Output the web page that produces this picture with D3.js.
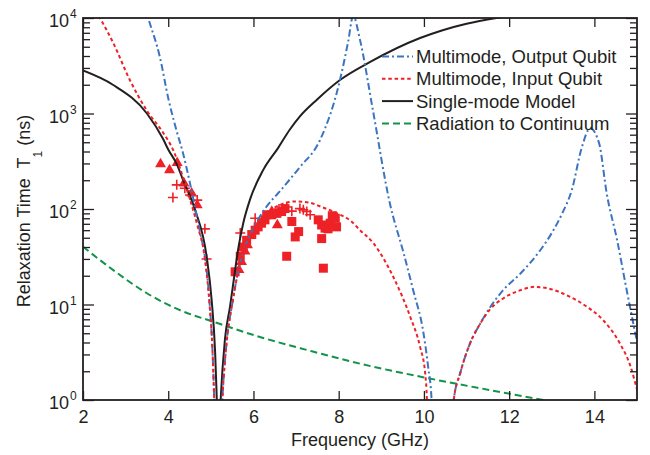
<!DOCTYPE html>
<html>
<head>
<meta charset="utf-8">
<script src="https://cdn.jsdelivr.net/npm/d3@7/dist/d3.min.js"></script>
<style>
  body { margin: 0; background: #fff; }
  text { font-family: "Liberation Sans", Arial, Helvetica, sans-serif; fill: #231f20; }
</style>
</head>
<body>
<div class="canvas"></div>
<script>
// tick values
const xTicks = [2, 4, 6, 8, 10, 12, 14];
const yTicks = [1, 10, 100, 1000, 10000];
const yExponents = ['0', '1', '2', '3', '4'];

const legendLabels = [
  'Multimode, Output Qubit',
  'Multimode, Input Qubit',
  'Single-mode Model',
  'Radiation to Continuum'
];

// curves: [frequency GHz, T1 ns]
const outputQubit = [
  [3.45, 13200], [3.53, 10000], [3.81, 3800], [4.0, 1450], [4.2, 650], [4.35, 380],
  [4.51, 186], [4.75, 56], [4.86, 32], [4.97, 10.5], [5.04, 3.2], [5.08, 1], [5.12, 0.3],
  [5.22, 0.3], [5.27, 1], [5.37, 4], [5.5, 10], [5.62, 20], [5.76, 35], [6.0, 63],
  [6.3, 105], [6.6, 150], [7.09, 275], [7.56, 525], [8.03, 2240], [8.22, 5600],
  [8.34, 10500], [8.5, 5900], [8.8, 1100], [9.2, 115], [9.52, 35], [9.75, 14],
  [9.99, 5], [10.1, 2.2], [10.18, 1], [10.22, 0.3],
  [10.6, 0.3], [10.7, 1], [10.85, 1.9], [11.08, 3.9], [11.32, 6.3], [11.55, 9.3],
  [11.85, 14], [12.26, 21], [12.73, 37], [13.0, 56], [13.24, 89], [13.47, 158],
  [13.71, 450], [13.9, 700], [14.11, 490], [14.29, 145], [14.53, 48], [14.76, 14],
  [14.96, 5], [15.05, 3.2]
];

const inputQubit = [
  [2.3, 12000], [2.4, 10000], [2.7, 5600], [3.1, 2240], [3.5, 1070], [3.88, 630],
  [4.11, 420], [4.44, 158], [4.67, 71], [4.86, 30], [4.97, 10], [5.04, 3.2], [5.08, 1],
  [5.12, 0.3],
  [5.22, 0.3], [5.27, 1], [5.37, 4], [5.5, 10], [5.62, 20], [5.76, 35], [6.0, 60],
  [6.3, 89], [6.62, 110], [6.98, 120], [7.29, 117], [7.6, 105], [7.99, 89], [8.3, 74],
  [8.5, 60], [8.81, 44], [9.28, 19.5], [9.68, 7.4], [9.91, 3.6], [10.03, 1.9],
  [10.07, 1], [10.1, 0.3],
  [10.6, 0.3], [10.7, 1], [10.85, 1.9], [11.08, 3.9], [11.32, 6.3], [11.55, 8.9],
  [11.85, 11.5], [12.26, 14.1], [12.6, 15.3], [12.9, 14.8], [13.43, 12], [13.82, 9.5],
  [14.2, 6.9], [14.6, 3.9], [14.85, 2.24], [15.0, 1.3], [15.08, 1]
];

const singleMode = [
  [2.0, 2820], [2.7, 2000], [3.5, 1000], [3.88, 540], [4.0, 420], [4.2, 295],
  [4.35, 200], [4.63, 98], [4.9, 32], [5.02, 11], [5.1, 3.2], [5.14, 1], [5.18, 0.3],
  [5.23, 1], [5.33, 4.3], [5.45, 9.5], [5.57, 23], [5.65, 40], [5.76, 71], [5.92, 126],
  [6.23, 257], [6.58, 437], [6.85, 676], [7.09, 933], [7.5, 1410], [8.03, 2240],
  [8.74, 3470], [9.91, 6170], [10.42, 7410], [11.0, 8710], [11.7, 10000], [12.5, 11200]
];

const radiation = [
  [2.0, 40.3], [2.71, 22.9], [3.49, 13.2], [4.28, 8.7], [5.06, 6.6], [6.15, 4.57],
  [7.3, 3.3], [8.5, 2.4], [10.07, 1.7], [11.55, 1.27], [12.8, 1.0]
];

// measured points
const triangles = [
  [3.82, 296], [4.03, 256], [4.21, 305], [4.37, 186], [4.55, 146], [4.68, 110],
  [5.66, 23], [5.72, 28], [5.8, 36], [5.86, 42], [6.43, 94], [6.56, 68]
];

const squares = [
  [5.57, 22], [5.69, 32], [5.76, 40], [5.84, 47], [5.96, 54], [6.04, 60], [6.11, 65],
  [6.19, 71], [6.27, 77], [6.31, 87], [6.43, 87], [6.55, 90], [6.66, 94], [6.74, 101],
  [6.9, 74], [6.98, 51], [7.06, 58], [6.78, 32], [7.52, 77], [7.6, 68], [7.68, 63],
  [7.6, 49], [7.8, 71], [7.92, 80], [7.95, 65], [7.64, 24], [7.85, 85], [7.75, 62]
];

const pluses = [
  [4.2, 179], [4.11, 132], [4.39, 165], [4.51, 140], [4.68, 124], [4.86, 62],
  [4.9, 30], [5.69, 56], [6.04, 80], [6.6, 100], [6.78, 105], [6.9, 95], [7.09, 101],
  [7.17, 98], [7.25, 94], [7.33, 87]
];

const blue = '#3b74c2';
const red = '#ee2127';
const black = '#231f20';
const green = '#119447';

const margin = { top: 18, right: 13, bottom: 55, left: 83 };
const width = 650;
const height = 455;
const graphWidth = width - margin.left - margin.right;
const graphHeight = height - margin.top - margin.bottom;

const svg = d3
  .select('.canvas')
  .append('svg')
  .attr('width', width)
  .attr('height', height);

const graph = svg
  .append('g')
  .attr('transform', `translate(${margin.left}, ${margin.top})`);

// scales
const x = d3.scaleLinear().domain([2, 15]).range([0, graphWidth]);
const y = d3.scaleLog().domain([1, 10000]).range([graphHeight, 0]);

svg
  .append('defs')
  .append('clipPath')
  .attr('id', 'plot-clip')
  .append('rect')
  .attr('width', graphWidth)
  .attr('height', graphHeight);

// markers
const marks = graph.append('g').attr('clip-path', 'url(#plot-clip)');

marks
  .selectAll('path.tri')
  .data(triangles)
  .enter()
  .append('path')
  .attr('class', 'tri')
  .attr('d', d3.symbol().type(d3.symbolTriangle).size(52))
  .attr('transform', d => `translate(${x(d[0])}, ${y(d[1])})`)
  .attr('fill', red);

marks
  .selectAll('rect.sq')
  .data(squares)
  .enter()
  .append('rect')
  .attr('class', 'sq')
  .attr('x', d => x(d[0]) - 4.5)
  .attr('y', d => y(d[1]) - 4.5)
  .attr('width', 9)
  .attr('height', 9)
  .attr('fill', red);

marks
  .selectAll('path.plus')
  .data(pluses)
  .enter()
  .append('path')
  .attr('class', 'plus')
  .attr('d', d => {
    const cx = x(d[0]);
    const cy = y(d[1]);
    return `M${cx - 5},${cy}h10M${cx},${cy - 5}v10`;
  })
  .attr('stroke', red)
  .attr('stroke-width', 1.6)
  .attr('fill', 'none');

// curves
const line = d3
  .line()
  .x(d => x(d[0]))
  .y(d => y(d[1]))
  .curve(d3.curveMonotoneX);

const curves = graph.append('g').attr('clip-path', 'url(#plot-clip)');

const series = [
  { data: radiation, color: green, dash: '7,4' },
  { data: singleMode, color: black, dash: null },
  { data: outputQubit, color: blue, dash: '7,3,2,3' },
  { data: inputQubit, color: red, dash: '3.5,2.8' }
];

series.forEach(s => {
  curves
    .append('path')
    .datum(s.data)
    .attr('fill', 'none')
    .attr('stroke', s.color)
    .attr('stroke-width', 2)
    .attr('stroke-dasharray', s.dash)
    .attr('d', line);
});

// axes (ticks pointing inward on all four sides)
const minorTicks = [];
[1, 10, 100, 1000].forEach(base => {
  for (let k = 2; k <= 9; k++) minorTicks.push(base * k);
});

const styleAxis = g => {
  g.select('.domain').remove();
  g.selectAll('line').attr('stroke', black).attr('stroke-width', 1.3);
};

graph
  .append('g')
  .attr('transform', `translate(0, ${graphHeight})`)
  .call(d3.axisBottom(x).tickValues(xTicks).tickSize(-9).tickPadding(10))
  .call(styleAxis)
  .call(g =>
    g.selectAll('text').attr('font-size', 18).attr('fill', black).style('font-family', null)
  );

graph
  .append('g')
  .call(d3.axisTop(x).tickValues(xTicks).tickSize(-9).tickFormat(''))
  .call(styleAxis);

graph
  .append('g')
  .call(d3.axisLeft(y).tickValues(yTicks).tickSize(-11).tickFormat(''))
  .call(styleAxis);

graph
  .append('g')
  .call(d3.axisLeft(y).tickValues(minorTicks).tickSize(-7).tickFormat(''))
  .call(styleAxis);

graph
  .append('g')
  .attr('transform', `translate(${graphWidth}, 0)`)
  .call(d3.axisRight(y).tickValues(yTicks).tickSize(-11).tickFormat(''))
  .call(styleAxis);

graph
  .append('g')
  .attr('transform', `translate(${graphWidth}, 0)`)
  .call(d3.axisRight(y).tickValues(minorTicks).tickSize(-7).tickFormat(''))
  .call(styleAxis);

// y tick labels 10^n
const yLabels = graph.append('g');
yTicks.forEach((t, i) => {
  yLabels
    .append('text')
    .attr('x', -14)
    .attr('y', y(t) + 9)
    .attr('text-anchor', 'end')
    .attr('font-size', 18)
    .text('10');
  yLabels
    .append('text')
    .attr('x', -13)
    .attr('y', y(t))
    .attr('font-size', 12)
    .text(yExponents[i]);
});

// frame
graph
  .append('rect')
  .attr('width', graphWidth)
  .attr('height', graphHeight)
  .attr('fill', 'none')
  .attr('stroke', black)
  .attr('stroke-width', 1.8);

// axis titles
svg
  .append('text')
  .attr('x', margin.left + graphWidth / 2)
  .attr('y', 446)
  .attr('text-anchor', 'middle')
  .attr('font-size', 18)
  .text('Frequency (GHz)');

const yTitle = svg
  .append('text')
  .attr('transform', `translate(30, ${margin.top + graphHeight / 2 + 2}) rotate(-90)`)
  .attr('text-anchor', 'middle')
  .attr('font-size', 18)
  .style('white-space', 'pre');
yTitle.append('tspan').text('Relaxation Time  T');
yTitle.append('tspan').attr('dy', 12).attr('font-size', 12).text('1');
yTitle.append('tspan').attr('dy', -12).text(' (ns)');

// legend
const legend = svg.append('g');
const legendStyles = [
  { color: blue, dash: '7,3,2,3' },
  { color: red, dash: '3.5,2.8' },
  { color: black, dash: null },
  { color: green, dash: '7,4' }
];

legendLabels.forEach((label, i) => {
  const ly = 56.5 + i * 22.3;
  legend
    .append('line')
    .attr('x1', 382)
    .attr('x2', 413)
    .attr('y1', ly)
    .attr('y2', ly)
    .attr('stroke', legendStyles[i].color)
    .attr('stroke-width', 2)
    .attr('stroke-dasharray', legendStyles[i].dash);
  legend
    .append('text')
    .attr('x', 416)
    .attr('y', ly)
    .attr('dy', '0.36em')
    .attr('font-size', 18.5)
    .text(label);
});
</script>
</body>
</html>
